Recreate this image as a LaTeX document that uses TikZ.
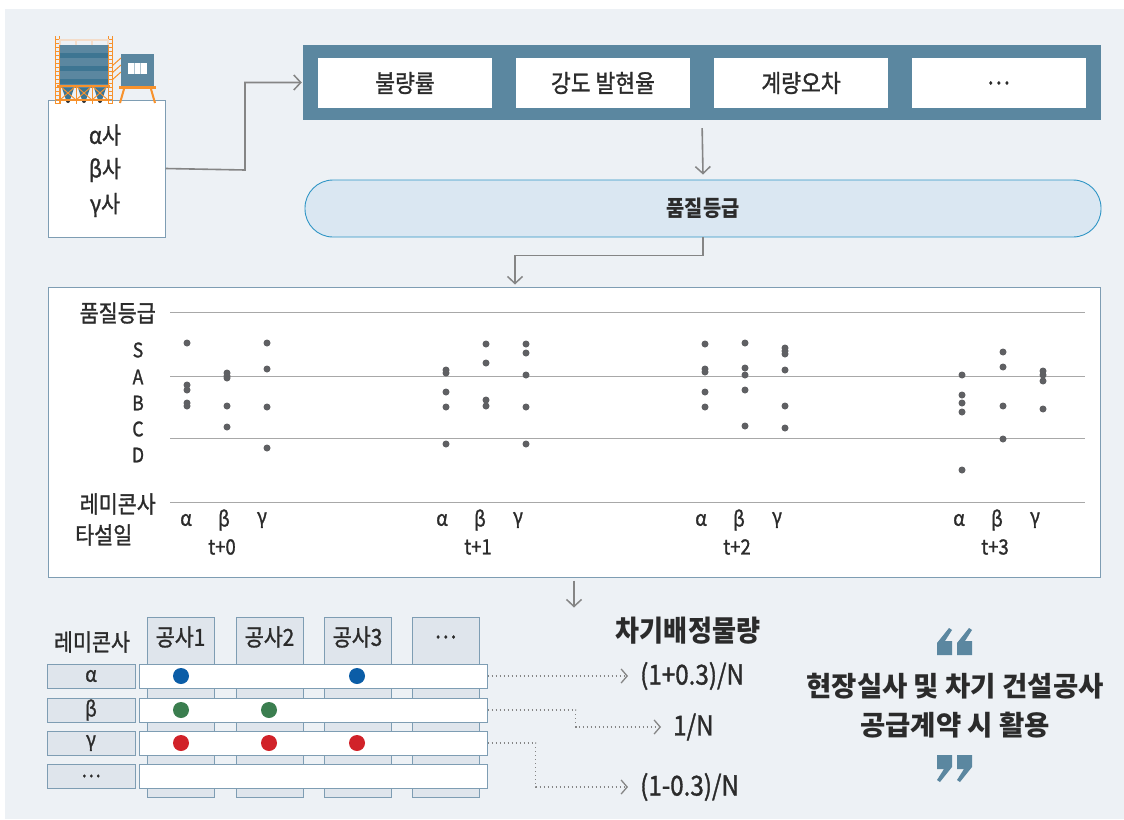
\documentclass[tikz,border=0pt]{standalone}
\usepackage{fontspec}
\setmainfont{Noto Sans CJK KR}
\newfontfamily\kr{Noto Sans CJK KR}[FakeStretch=0.88, FakeBold=1.2]
\newfontfamily\krc{Noto Sans CJK KR}[FakeStretch=0.9]
\usetikzlibrary{arrows.meta,positioning,calc}

\definecolor{bgc}{HTML}{EDF1F5}
\definecolor{steel}{HTML}{5B87A0}
\definecolor{steeldk}{HTML}{3D7592}
\definecolor{pillc}{HTML}{DAE7F2}
\definecolor{pilledge}{HTML}{2F95C5}
\definecolor{framec}{HTML}{7E9DB3}
\definecolor{cellc}{HTML}{DFE5EC}
\definecolor{arrc}{HTML}{858585}
\definecolor{gridc}{HTML}{A8A8A8}
\definecolor{dotc}{HTML}{5F6063}
\definecolor{txt}{HTML}{2B2B2B}
\definecolor{orng}{HTML}{F7922D}
\definecolor{peach}{HTML}{F3DCC9}
\definecolor{bluedot}{HTML}{0B5DA7}
\definecolor{greendot}{HTML}{3B7E4F}
\definecolor{reddot}{HTML}{D12229}

\tikzset{
  f20/.style={font=\kr\fontsize{20}{24}\selectfont},
  f21/.style={font=\kr\fontsize{21}{25}\selectfont},
  f23/.style={font=\kr\fontsize{23.5}{27}\selectfont},
  f24/.style={font=\kr\fontsize{24.5}{28}\selectfont},
  f27/.style={font=\kr\fontsize{27.5}{31}\selectfont},
  hd22/.style={font=\krc\fontsize{22}{26}\selectfont\bfseries},
  hd29/.style={font=\krc\fontsize{29}{33}\selectfont\bfseries},
  hd27/.style={font=\fontsize{27.5}{33}\selectfont\bfseries},
}

\begin{document}
\begin{tikzpicture}[x=1pt,y=-1pt,
  every node/.style={text=txt, inner sep=0pt},
  arr/.style={draw=arrc, line width=1.6pt, -{Straight Barb[length=7pt,width=15pt,line width=1.5pt]}},
  dotarr/.style={draw=arrc, line width=1.3pt, dash pattern=on 1.3pt off 2.7pt,
    -{Straight Barb[length=6pt,width=14pt,line width=1.3pt]}},
  frame/.style={draw=framec, line width=1pt},
  cell/.style={frame, fill=cellc},
  gdot/.style={fill=dotc},
]
% canvas
\fill[white] (0,0) rectangle (1124,819);
\fill[bgc] (5,9) rectangle (1124,819);
\useasboundingbox (0,0) rectangle (1124,819);

% ready-mix companies
\node[frame, fill=white, minimum width=117pt, minimum height=137pt] (corp) at (106.5,168.5) {};
\node[f23] (corpa) at (105,135) {α사};
\node[f23] (corpb) at (105,170) {β사};
\node[f23] (corpc) at (105,205) {γ사};

% batch plant
\foreach \x in {55,108} {
  \draw[orng, line width=1pt] (\x,36) -- (\x,104) (\x+4,36) -- (\x+4,104);
  \foreach \y in {39,43,...,103}
    \draw[orng, line width=0.8pt] (\x,\y) -- (\x+4,\y);
}
\foreach \x in {60,76,92} {
  \draw[peach, line width=1.5pt] (\x,45) -- (\x,40) -- (\x+16,40) -- (\x+16,45);
  \fill[steel] (\x,45) rectangle (\x+16,88);
  \foreach \y in {53,66,79}
    \fill[steeldk] (\x,\y) rectangle (\x+16,\y+5);
  \fill[steeldk] (\x+2,88) -- (\x+14,88) -- (\x+10,100) -- (\x+6,100) -- cycle;
  \fill[black!80] (\x+8,101) circle (2);
  \draw[orng, line width=0.9pt] (\x,86) -- (\x+16,100) (\x+16,86) -- (\x,100);
  \draw[orng, line width=1pt] (\x,86) -- (\x,104);
}
\draw[orng, line width=1.2pt] (57,86) -- (110,86) (57,100) -- (110,100);
\draw[orng, line width=1pt] (112,66) -- (121,58) (112,73) -- (121,65) (112,80) -- (121,72);
\fill[steel] (121,54) rectangle (154,87);
\fill[white] (128,63) rectangle (147,74);
\draw[steel!50, line width=0.6pt] (134.3,63) -- (134.3,74) (140.6,63) -- (140.6,74);
\fill[orng] (119,86) rectangle (156,89);
\draw[orng, line width=2pt] (124,89) -- (120,103) (151,89) -- (155,103);

% quality metrics
\node[fill=steel, minimum width=798pt, minimum height=75pt] (metrics) at (702,82.5) {};
\node[fill=white, minimum width=174pt, minimum height=50pt, f24] (m1) at (405,83) {불량률};
\node[fill=white, minimum width=174pt, minimum height=50pt, f24] (m2) at (603,83) {강도 발현율};
\node[fill=white, minimum width=174pt, minimum height=50pt, f24] (m3) at (801,83) {계량오차};
\node[fill=white, minimum width=174pt, minimum height=50pt, f24] (m4) at (998.5,83) {⋯};

% grade
\node[draw=pilledge, fill=pillc, line width=0.9pt, rounded corners=28pt,
  minimum width=796pt, minimum height=57pt, hd22] (grade) at (703,208.5) {품질등급};

\draw[arr] (corp.east) -- (245,170) |- ([xshift=-1pt]metrics.west);
\draw[arr, shorten <=8pt] (metrics.south) -- ([yshift=5pt]grade.north);

% grade chart
\node[frame, fill=white, minimum width=1052pt, minimum height=290pt] (chart) at (574,432) {};
\draw[arr] (grade.south) -- ++(0,18) -| ([xshift=-59pt,yshift=2pt]chart.north);
\foreach \y in {312,376,438,502}
  \draw[gridc, line width=1pt] (170,\y) -- (1085,\y);

\node[f23, anchor=east] (ylab) at (156,313) {품질등급};
\node[f20] (gs) at (138,350) {S};
\node[f20] (ga) at (138,377) {A};
\node[f20] (gb) at (138,403) {B};
\node[f20] (gc) at (138,429) {C};
\node[f20] (gd) at (138,455) {D};
\node[f23, anchor=east] (xlab) at (156,504) {레미콘사};
\node[f23, anchor=west] (dlab) at (75,535) {타설일};

\foreach \x/\t in {222/0, 478/1, 737/2, 995/3} {
  \node[f21] at (\x-36,520) {α};
  \node[f21] at (\x+2,520) {β};
  \node[f21] at (\x+40,520) {γ};
  \node[f21] at (\x,547) {t+\t};
}

% t+0
\foreach \y in {343,385,390,403,406} \fill[gdot] (187,\y) circle (3.5);
\foreach \y in {373,376,378,406,427} \fill[gdot] (227,\y) circle (3.5);
\foreach \y in {343,369,407,448} \fill[gdot] (267,\y) circle (3.5);
% t+1
\foreach \y in {370,373,392,407,444} \fill[gdot] (446,\y) circle (3.5);
\foreach \y in {344,363,400,406} \fill[gdot] (486,\y) circle (3.5);
\foreach \y in {344,353,375,407,444} \fill[gdot] (526,\y) circle (3.5);
% t+2
\foreach \y in {344,369,372,392,407} \fill[gdot] (705,\y) circle (3.5);
\foreach \y in {343,368,375,390,426} \fill[gdot] (745,\y) circle (3.5);
\foreach \y in {348,351,354,370,406,428} \fill[gdot] (785,\y) circle (3.5);
% t+3
\foreach \y in {375,395,403,412,470} \fill[gdot] (962,\y) circle (3.5);
\foreach \y in {352,367,406,439} \fill[gdot] (1003,\y) circle (3.5);
\foreach \y in {371,375,381,409} \fill[gdot] (1043,\y) circle (3.5);

\draw[arr, shorten <=3pt] (chart.south) -- ++(0,30);

% allocation table
\node[f23] (tlab) at (92,642) {레미콘사};
\foreach \x/\lab [count=\i] in {180.5/공사1, 269.5/공사2, 357.5/공사3, 445.5/⋯} {
  \node[cell, anchor=north, minimum width=67pt, minimum height=180pt] (col\i) at (\x,617) {};
  \node[f23] at (\x,637) {\lab};
}
\foreach \y/\lab/\n in {676/α/a, 710/β/b, 743/γ/c, 776/⋯/d} {
  \node[cell, minimum width=88pt, minimum height=24pt, f21] (row\n) at (91,\y) {\lab};
  \node[frame, fill=white, minimum width=348pt, minimum height=24pt] (bar\n) at (313,\y) {};
}
\fill[bluedot] (181,676) circle (8);
\fill[bluedot] (357,676) circle (8);
\fill[greendot] (181,710) circle (8);
\fill[greendot] (269,710) circle (8);
\fill[reddot] (181,743) circle (8);
\fill[reddot] (269,743) circle (8);
\fill[reddot] (357,743) circle (8);

% next allocation
\node[hd29] (alloc) at (688,631) {차기배정물량};
\node[f27, anchor=west] (ra) at (640,676) {(1+0.3)/N};
\node[f27, anchor=west] (rb) at (673,727) {1/N};
\node[f27, anchor=west] (rc) at (640,787) {(1-0.3)/N};
\draw[dotarr] (bara.east) -- ([xshift=-12pt]ra.west);
\draw[dotarr] (barb.east) -- ++(88,0) |- ([xshift=-12pt]rb.west);
\draw[dotarr] (barc.east) -- ++(48,0) |- ([xshift=-12pt]rc.west);

% usage note
\foreach \x in {937,957}
  \fill[steel, shift={(\x,628)}] (0,27) -- (15,27) -- (15,13) -- (8,13) -- (15,2) -- (12,0) -- (0,15) -- cycle;
\node[hd27] (use1) at (955,686) {현장실사 및 차기 건설공사};
\node[hd27] (use2) at (955,725) {공급계약 시 활용};
\foreach \x in {952,972}
  \fill[steel, shift={(\x,782)}, rotate=180] (0,27) -- (15,27) -- (15,13) -- (8,13) -- (15,2) -- (12,0) -- (0,15) -- cycle;
\end{tikzpicture}
\end{document}
